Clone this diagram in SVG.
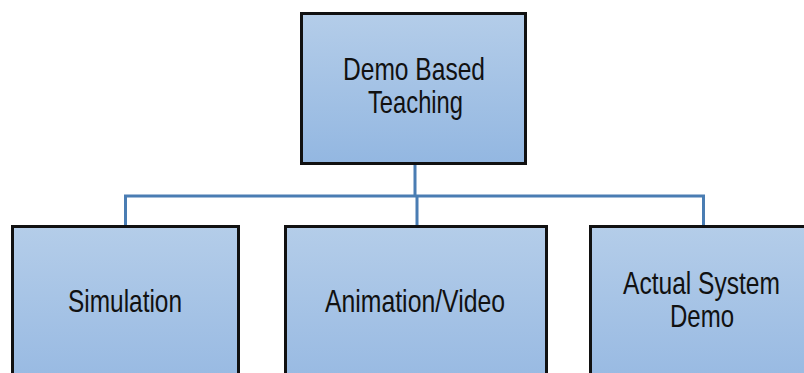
<svg xmlns="http://www.w3.org/2000/svg" width="804" height="373" viewBox="0 0 804 373">
<defs>
<linearGradient id="fill" x1="0" y1="0" x2="0" y2="1">
<stop offset="0" stop-color="#b4cde9"/>
<stop offset="1" stop-color="#93b7e1"/>
</linearGradient>
<linearGradient id="fill2" x1="0" y1="0" x2="0" y2="1">
<stop offset="0" stop-color="#b4cde9"/>
<stop offset="1" stop-color="#97b9e2"/>
</linearGradient>
</defs>
<style>
.box{stroke:#111;stroke-width:3}
.lbl{font-family:"Liberation Sans",Arial,sans-serif;font-size:32px;fill:#111;text-anchor:middle}
.conn{fill:none;stroke:#4a7db3;stroke-width:3}
</style>
<rect width="804" height="373" fill="#fff"/>
<g id="connectors">
<path class="conn" d="M415 164 V196 M125.5 226 V196 H703.5 V226 M417 196 V226"/>
</g>
<g id="root">
<rect class="box" x="301.5" y="13.5" width="224" height="150" fill="url(#fill)"/>
<text class="lbl" x="414" y="80" textLength="142" lengthAdjust="spacingAndGlyphs">Demo Based</text>
<text class="lbl" x="415.5" y="113" textLength="95" lengthAdjust="spacingAndGlyphs">Teaching</text>
</g>
<g id="simulation">
<rect class="box" x="12.5" y="226.5" width="226" height="160" fill="url(#fill2)"/>
<text class="lbl" x="125" y="312" textLength="114" lengthAdjust="spacingAndGlyphs">Simulation</text>
</g>
<g id="animation">
<rect class="box" x="285.5" y="226.5" width="261" height="160" fill="url(#fill2)"/>
<text class="lbl" x="415" y="312" textLength="180" lengthAdjust="spacingAndGlyphs">Animation/Video</text>
</g>
<g id="actual">
<rect class="box" x="590.5" y="226.5" width="230" height="160" fill="url(#fill2)"/>
<text class="lbl" x="701.5" y="294" textLength="157" lengthAdjust="spacingAndGlyphs">Actual System</text>
<text class="lbl" x="702" y="327" textLength="64" lengthAdjust="spacingAndGlyphs">Demo</text>
</g>
</svg>
